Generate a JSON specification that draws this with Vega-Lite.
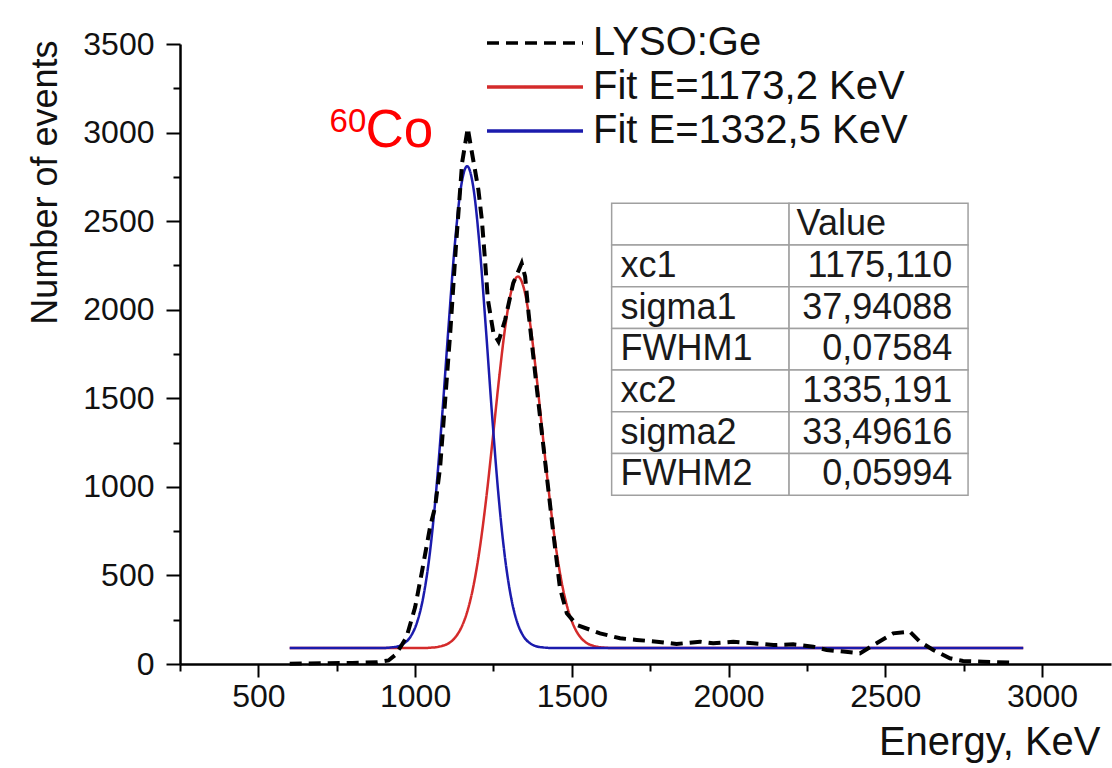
{
  "$schema": "https://vega.github.io/schema/vega-lite/v6.json",
  "width": 931,
  "height": 620,
  "autosize": {"type": "none"},
  "padding": {"left": 180, "top": 44, "right": 1, "bottom": 104},
  "background": "white",
  "config": {
    "font": "Liberation Sans",
    "view": {"stroke": null},
    "axis": {"grid": false},
    "legend": {
      "title": null, "orient": "none", "legendX": 305, "legendY": -21,
      "symbolType": "stroke", "symbolSize": 9216, "symbolStrokeWidth": 3.5,
      "labelFontSize": 40, "labelColor": "#111111", "labelOffset": 8, "labelLimit": 600,
      "rowPadding": 4, "padding": 0, "clipHeight": 40
    }
  },
  "datasets": {
    "lyso": [
      {"series": "LYSO:Ge", "E": 600, "N": 2}, {"series": "LYSO:Ge", "E": 700, "N": 4}, {"series": "LYSO:Ge", "E": 800, "N": 6},
      {"series": "LYSO:Ge", "E": 880, "N": 10}, {"series": "LYSO:Ge", "E": 915, "N": 20}, {"series": "LYSO:Ge", "E": 936, "N": 50},
      {"series": "LYSO:Ge", "E": 955, "N": 100}, {"series": "LYSO:Ge", "E": 973, "N": 154}, {"series": "LYSO:Ge", "E": 1000, "N": 320},
      {"series": "LYSO:Ge", "E": 1021, "N": 513}, {"series": "LYSO:Ge", "E": 1048, "N": 775}, {"series": "LYSO:Ge", "E": 1064, "N": 888},
      {"series": "LYSO:Ge", "E": 1080, "N": 1114}, {"series": "LYSO:Ge", "E": 1096, "N": 1491}, {"series": "LYSO:Ge", "E": 1112, "N": 1868},
      {"series": "LYSO:Ge", "E": 1130, "N": 2350}, {"series": "LYSO:Ge", "E": 1150, "N": 2830}, {"series": "LYSO:Ge", "E": 1168, "N": 3025},
      {"series": "LYSO:Ge", "E": 1180, "N": 2900}, {"series": "LYSO:Ge", "E": 1191, "N": 2789}, {"series": "LYSO:Ge", "E": 1202, "N": 2676},
      {"series": "LYSO:Ge", "E": 1213, "N": 2507}, {"series": "LYSO:Ge", "E": 1223, "N": 2281}, {"series": "LYSO:Ge", "E": 1232, "N": 2060},
      {"series": "LYSO:Ge", "E": 1250, "N": 1867}, {"series": "LYSO:Ge", "E": 1266, "N": 1820}, {"series": "LYSO:Ge", "E": 1287, "N": 1942},
      {"series": "LYSO:Ge", "E": 1313, "N": 2150}, {"series": "LYSO:Ge", "E": 1340, "N": 2262}, {"series": "LYSO:Ge", "E": 1351, "N": 2187},
      {"series": "LYSO:Ge", "E": 1362, "N": 1980}, {"series": "LYSO:Ge", "E": 1388, "N": 1560}, {"series": "LYSO:Ge", "E": 1415, "N": 1140},
      {"series": "LYSO:Ge", "E": 1441, "N": 738}, {"series": "LYSO:Ge", "E": 1462, "N": 430}, {"series": "LYSO:Ge", "E": 1484, "N": 286},
      {"series": "LYSO:Ge", "E": 1516, "N": 220}, {"series": "LYSO:Ge", "E": 1590, "N": 173}, {"series": "LYSO:Ge", "E": 1654, "N": 145},
      {"series": "LYSO:Ge", "E": 1707, "N": 136}, {"series": "LYSO:Ge", "E": 1771, "N": 126}, {"series": "LYSO:Ge", "E": 1834, "N": 113},
      {"series": "LYSO:Ge", "E": 1909, "N": 126}, {"series": "LYSO:Ge", "E": 1951, "N": 117}, {"series": "LYSO:Ge", "E": 2015, "N": 126},
      {"series": "LYSO:Ge", "E": 2079, "N": 117}, {"series": "LYSO:Ge", "E": 2143, "N": 107}, {"series": "LYSO:Ge", "E": 2206, "N": 111},
      {"series": "LYSO:Ge", "E": 2270, "N": 98}, {"series": "LYSO:Ge", "E": 2313, "N": 79}, {"series": "LYSO:Ge", "E": 2366, "N": 70},
      {"series": "LYSO:Ge", "E": 2419, "N": 60}, {"series": "LYSO:Ge", "E": 2472, "N": 117}, {"series": "LYSO:Ge", "E": 2525, "N": 173},
      {"series": "LYSO:Ge", "E": 2578, "N": 183}, {"series": "LYSO:Ge", "E": 2610, "N": 126}, {"series": "LYSO:Ge", "E": 2653, "N": 79},
      {"series": "LYSO:Ge", "E": 2706, "N": 32}, {"series": "LYSO:Ge", "E": 2748, "N": 17}, {"series": "LYSO:Ge", "E": 2812, "N": 13},
      {"series": "LYSO:Ge", "E": 2908, "N": 7}
    ],
    "fitRed": [
      {"series": "Fit E=1173,2 KeV", "E": 600, "N": 90}, {"series": "Fit E=1173,2 KeV", "E": 1028, "N": 90},
      {"series": "Fit E=1173,2 KeV", "E": 1048, "N": 92}, {"series": "Fit E=1173,2 KeV", "E": 1068, "N": 95},
      {"series": "Fit E=1173,2 KeV", "E": 1088, "N": 103}, {"series": "Fit E=1173,2 KeV", "E": 1108, "N": 118},
      {"series": "Fit E=1173,2 KeV", "E": 1128, "N": 150}, {"series": "Fit E=1173,2 KeV", "E": 1148, "N": 208},
      {"series": "Fit E=1173,2 KeV", "E": 1168, "N": 305}, {"series": "Fit E=1173,2 KeV", "E": 1188, "N": 457},
      {"series": "Fit E=1173,2 KeV", "E": 1208, "N": 673}, {"series": "Fit E=1173,2 KeV", "E": 1228, "N": 952},
      {"series": "Fit E=1173,2 KeV", "E": 1248, "N": 1277}, {"series": "Fit E=1173,2 KeV", "E": 1268, "N": 1613},
      {"series": "Fit E=1173,2 KeV", "E": 1288, "N": 1909}, {"series": "Fit E=1173,2 KeV", "E": 1308, "N": 2114},
      {"series": "Fit E=1173,2 KeV", "E": 1328, "N": 2187}, {"series": "Fit E=1173,2 KeV", "E": 1348, "N": 2114},
      {"series": "Fit E=1173,2 KeV", "E": 1368, "N": 1909}, {"series": "Fit E=1173,2 KeV", "E": 1388, "N": 1613},
      {"series": "Fit E=1173,2 KeV", "E": 1408, "N": 1277}, {"series": "Fit E=1173,2 KeV", "E": 1428, "N": 952},
      {"series": "Fit E=1173,2 KeV", "E": 1448, "N": 673}, {"series": "Fit E=1173,2 KeV", "E": 1468, "N": 457},
      {"series": "Fit E=1173,2 KeV", "E": 1488, "N": 305}, {"series": "Fit E=1173,2 KeV", "E": 1508, "N": 208},
      {"series": "Fit E=1173,2 KeV", "E": 1528, "N": 150}, {"series": "Fit E=1173,2 KeV", "E": 1548, "N": 118},
      {"series": "Fit E=1173,2 KeV", "E": 1568, "N": 103}, {"series": "Fit E=1173,2 KeV", "E": 1588, "N": 95},
      {"series": "Fit E=1173,2 KeV", "E": 1608, "N": 92}, {"series": "Fit E=1173,2 KeV", "E": 1628, "N": 90},
      {"series": "Fit E=1173,2 KeV", "E": 2940, "N": 90}
    ],
    "fitBlue": [
      {"series": "Fit E=1332,5 KeV", "E": 600, "N": 90}, {"series": "Fit E=1332,5 KeV", "E": 906, "N": 91},
      {"series": "Fit E=1332,5 KeV", "E": 926, "N": 94}, {"series": "Fit E=1332,5 KeV", "E": 946, "N": 100},
      {"series": "Fit E=1332,5 KeV", "E": 966, "N": 118}, {"series": "Fit E=1332,5 KeV", "E": 986, "N": 156},
      {"series": "Fit E=1332,5 KeV", "E": 1006, "N": 234}, {"series": "Fit E=1332,5 KeV", "E": 1026, "N": 377},
      {"series": "Fit E=1332,5 KeV", "E": 1046, "N": 611}, {"series": "Fit E=1332,5 KeV", "E": 1066, "N": 953},
      {"series": "Fit E=1332,5 KeV", "E": 1086, "N": 1395}, {"series": "Fit E=1332,5 KeV", "E": 1106, "N": 1889},
      {"series": "Fit E=1332,5 KeV", "E": 1126, "N": 2354}, {"series": "Fit E=1332,5 KeV", "E": 1146, "N": 2688},
      {"series": "Fit E=1332,5 KeV", "E": 1166, "N": 2810}, {"series": "Fit E=1332,5 KeV", "E": 1186, "N": 2688},
      {"series": "Fit E=1332,5 KeV", "E": 1206, "N": 2354}, {"series": "Fit E=1332,5 KeV", "E": 1226, "N": 1889},
      {"series": "Fit E=1332,5 KeV", "E": 1246, "N": 1395}, {"series": "Fit E=1332,5 KeV", "E": 1266, "N": 953},
      {"series": "Fit E=1332,5 KeV", "E": 1286, "N": 611}, {"series": "Fit E=1332,5 KeV", "E": 1306, "N": 377},
      {"series": "Fit E=1332,5 KeV", "E": 1326, "N": 234}, {"series": "Fit E=1332,5 KeV", "E": 1346, "N": 156},
      {"series": "Fit E=1332,5 KeV", "E": 1366, "N": 118}, {"series": "Fit E=1332,5 KeV", "E": 1386, "N": 100},
      {"series": "Fit E=1332,5 KeV", "E": 1406, "N": 94}, {"series": "Fit E=1332,5 KeV", "E": 1426, "N": 91},
      {"series": "Fit E=1332,5 KeV", "E": 1446, "N": 90}, {"series": "Fit E=1332,5 KeV", "E": 2940, "N": 90}
    ],
    "table": [
      {"name": "", "value": "Value"},
      {"name": "xc1", "value": "1175,110"},
      {"name": "sigma1", "value": "37,94088"},
      {"name": "FWHM1", "value": "0,07584"},
      {"name": "xc2", "value": "1335,191"},
      {"name": "sigma2", "value": "33,49616"},
      {"name": "FWHM2", "value": "0,05994"}
    ],
    "isotope": [
      {"mass": "60", "element": "Co"}
    ]
  },
  "layer": [
    {
      "encoding": {
        "x": {
          "field": "E", "type": "quantitative",
          "scale": {"domain": [250, 3220], "nice": false, "zero": false},
          "axis": {
            "title": "Energy, KeV",
            "values": [250, 500, 750, 1000, 1250, 1500, 1750, 2000, 2250, 2500, 2750, 3000],
            "format": "d",
            "labelExpr": "datum.value % 500 === 0 ? datum.label : ''",
            "labelOverlap": false, "labelFlush": false,
            "tickSize": {"condition": {"test": "datum.value % 500 !== 0", "value": 7}, "value": 13},
            "tickWidth": 2, "tickColor": "black",
            "domainColor": "black", "domainWidth": 2.5,
            "labelFontSize": 32, "labelColor": "#111111", "labelPadding": 4,
            "titleFontSize": 40, "titleFontWeight": "normal", "titleColor": "#111111",
            "titleAnchor": "end", "titleAlign": "right", "titleBaseline": "top",
            "titleX": 920, "titleY": 58
          }
        },
        "y": {
          "field": "N", "type": "quantitative",
          "scale": {"domain": [0, 3500], "nice": false},
          "axis": {
            "title": "Number of events",
            "values": [0, 250, 500, 750, 1000, 1250, 1500, 1750, 2000, 2250, 2500, 2750, 3000, 3250, 3500],
            "format": "d",
            "labelExpr": "datum.value % 500 === 0 ? datum.label : ''",
            "labelOverlap": false, "labelFlush": false,
            "tickSize": {"condition": {"test": "datum.value % 500 !== 0", "value": 7}, "value": 14},
            "tickWidth": 2, "tickColor": "black",
            "domainColor": "black", "domainWidth": 2.5,
            "labelFontSize": 32, "labelColor": "#111111", "labelPadding": 12,
            "titleFontSize": 36, "titleFontWeight": "normal", "titleColor": "#111111",
            "titleAnchor": "end", "titleAngle": -90, "titleAlign": "right", "titleBaseline": "middle",
            "titleX": -135, "titleY": -4
          }
        }
      },
      "layer": [
        {
          "data": {"name": "fitRed"},
          "mark": {"type": "line", "strokeWidth": 2.5, "interpolate": "monotone"},
          "encoding": {
            "color": {"field": "series", "type": "nominal", "scale": {"domain": ["LYSO:Ge", "Fit E=1173,2 KeV", "Fit E=1332,5 KeV"], "range": ["#000000", "#d42b2b", "#1b1bad"]}},
            "strokeDash": {"field": "series", "type": "nominal", "scale": {"domain": ["LYSO:Ge", "Fit E=1173,2 KeV", "Fit E=1332,5 KeV"], "range": [[12, 7], [1, 0], [1, 0]]}}
          }
        },
        {
          "data": {"name": "fitBlue"},
          "mark": {"type": "line", "strokeWidth": 2.5, "interpolate": "monotone"},
          "encoding": {
            "color": {"field": "series", "type": "nominal"},
            "strokeDash": {"field": "series", "type": "nominal"}
          }
        },
        {
          "data": {"name": "lyso"},
          "mark": {"type": "line", "strokeWidth": 4},
          "encoding": {
            "color": {"field": "series", "type": "nominal"},
            "strokeDash": {"field": "series", "type": "nominal"}
          }
        }
      ]
    },
    {
      "data": {"name": "table"},
      "encoding": {
        "y": {
          "field": "name", "type": "ordinal",
          "scale": {
            "domain": ["~a", "~b", "~c", "", "xc1", "sigma1", "FWHM1", "xc2", "sigma2", "FWHM2", "~d", "~e", "~f", "~g"],
            "paddingInner": 0, "paddingOuter": 0.434, "align": 0.945
          },
          "axis": null
        }
      },
      "layer": [
        {"mark": {"type": "rect", "fill": "white", "stroke": "#a0a0a0", "strokeWidth": 1.5}, "encoding": {"x": {"datum": 1627}, "x2": {"datum": 2193}}},
        {"mark": {"type": "rect", "fill": "white", "stroke": "#a0a0a0", "strokeWidth": 1.5}, "encoding": {"x": {"datum": 2193}, "x2": {"datum": 2764}}},
        {"mark": {"type": "text", "align": "left", "baseline": "middle", "fontSize": 36, "color": "#1a1a1a"}, "encoding": {"x": {"datum": 1655}, "text": {"field": "name"}}},
        {"transform": [{"filter": "datum.name !== ''"}], "mark": {"type": "text", "align": "right", "baseline": "middle", "fontSize": 36, "color": "#1a1a1a"}, "encoding": {"x": {"datum": 2714}, "text": {"field": "value"}}},
        {"transform": [{"filter": "datum.name === ''"}], "mark": {"type": "text", "align": "left", "baseline": "middle", "fontSize": 36, "color": "#1a1a1a"}, "encoding": {"x": {"datum": 2217}, "text": {"field": "value"}}}
      ]
    },
    {
      "data": {"name": "isotope"},
      "mark": {"type": "text", "fontSize": 33, "fill": "#ff0000", "align": "left", "baseline": "alphabetic"},
      "encoding": {
        "x": {"datum": 727},
        "y": {"datum": 3003, "scale": {"domain": [0, 3500], "nice": false}, "axis": null},
        "text": {"field": "mass", "type": "nominal"}
      }
    },
    {
      "data": {"name": "isotope"},
      "mark": {"type": "text", "fontSize": 53, "fill": "#ff0000", "align": "left", "baseline": "alphabetic"},
      "encoding": {
        "x": {"datum": 842},
        "y": {"datum": 2919, "scale": {"domain": [0, 3500], "nice": false}, "axis": null},
        "text": {"field": "element", "type": "nominal"}
      }
    }
  ],
  "resolve": {"scale": {"y": "independent"}}
}
